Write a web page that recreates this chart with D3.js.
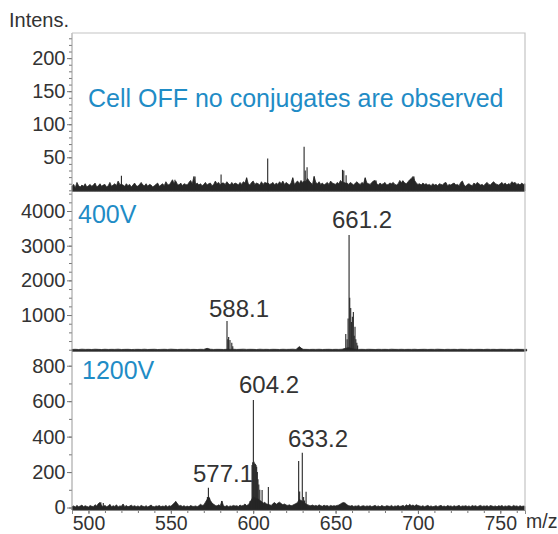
<!DOCTYPE html>
<html>
<head>
<meta charset="utf-8">
<script src="https://cdn.jsdelivr.net/npm/d3@7"></script>
<style>
  body { margin: 0; background: #fff; }
  text { font-family: "Liberation Sans", Arial, sans-serif; }
</style>
</head>
<body>
<div id="chart"></div>
<script>
// m/z of the first noise sample
const mzStart = 490;

// Cell OFF spectrum: baseline noise, one value per m/z unit (490..765)
const topNoise = [
  6, 9, 4, 12, 7, 5, 8, 6, 10, 5, 7, 9, 6, 8, 11, 5, 7, 10, 6, 8,
  9, 5, 7, 12, 6, 8, 10, 7, 14, 9, 9, 8, 6, 10, 7, 9, 5, 8, 11, 7,
  6, 9, 12, 8, 7, 10, 6, 9, 8, 5, 7, 9, 11, 6, 8, 10, 7, 13, 9, 8,
  12, 16, 10, 14, 9, 8, 11, 7, 10, 9, 8, 12, 15, 10, 21, 9, 11, 8, 10, 7,
  9, 12, 8, 10, 11, 7, 9, 14, 10, 12, 8, 11, 11, 9, 13, 10, 8, 12, 9, 11,
  10, 8, 12, 9, 13, 11, 19, 10, 8, 12, 14, 9, 11, 10, 8, 13, 9, 12, 11, 11,
  9, 10, 12, 8, 11, 9, 13, 10, 14, 9, 12, 10, 8, 11, 19, 9, 12, 14, 10, 15,
  12, 14, 13, 18, 14, 11, 9, 21, 12, 10, 13, 9, 11, 8, 10, 12, 9, 14, 11, 10,
  9, 12, 10, 15, 12, 12, 11, 11, 9, 12, 10, 8, 11, 13, 10, 9, 12, 10, 19, 11,
  10, 9, 12, 14, 15, 10, 8, 11, 9, 10, 12, 8, 9, 11, 10, 12, 9, 8, 10, 15,
  12, 14, 11, 10, 13, 16, 18, 21, 15, 11, 9, 10, 8, 11, 9, 10, 8, 9, 7, 10,
  8, 9, 7, 10, 9, 8, 11, 12, 7, 9, 8, 10, 11, 8, 9, 7, 12, 14, 8, 6,
  9, 10, 8, 7, 11, 9, 12, 10, 8, 9, 7, 10, 12, 9, 8, 11, 13, 10, 9, 8,
  10, 12, 9, 11, 8, 10, 9, 13, 11, 12, 9, 10, 8, 11, 9, 10
];
const topPeaks = [
  [520, 22], [552.5, 16], [564.7, 21], [580.5, 24], [596, 19], [608.8, 48],
  [624, 19], [630.9, 66], [631.6, 30], [632.7, 35], [637, 21], [654.2, 31],
  [655.0, 30], [656.4, 23], [668, 19], [674.6, 15], [690.8, 15], [695.6, 16], [697.6, 21]
];

// 400V spectrum: noise every 2 m/z units (490..766)
const midNoise = [
  8, 12, 6, 15, 9, 11, 7, 14, 10, 6, 13, 8, 11, 9, 15, 7, 10, 12, 6, 9,
  11, 8, 14, 7, 10, 13, 6, 9, 12, 8, 15, 10, 7, 11, 9, 13, 8, 10, 6, 12,
  9, 40, 14, 8, 11, 10, 7, 12, 9, 13, 8, 11, 15, 9, 12, 10, 6, 14, 9, 11,
  8, 12, 10, 7, 13, 9, 11, 15, 8, 90, 12, 10, 8, 11, 9, 13, 7, 10, 12, 8,
  11, 9, 14, 40, 60, 30, 12, 9, 11, 8, 13, 10, 7, 12, 9, 11, 8, 14, 10, 9,
  12, 8, 11, 9, 13, 7, 10, 12, 8, 11, 9, 14, 10, 7, 12, 9, 11, 8, 13, 10,
  9, 12, 8, 11, 10, 7, 13, 9, 11, 8, 12, 10, 9, 11, 8, 13, 10, 9, 12
];
const midPeaks = [
  [584.1, 828], [584.6, 300], [585.1, 370], [585.9, 280], [587.0, 200], [587.6, 100],
  [629.5, 50],
  [656.2, 453], [657.0, 300], [657.6, 900], [658.2, 3308], [658.6, 1500],
  [659.2, 1200], [659.6, 800], [660.2, 950], [660.8, 1090], [661.3, 400],
  [661.8, 663], [662.3, 300], [662.9, 200], [663.4, 120]
];

// 1200V spectrum: noise, one value per m/z unit (490..765)
const botNoise = [
  4, 9, 3, 12, 5, 8, 14, 4, 10, 6, 3, 11, 7, 5, 16, 8, 22, 28, 9, 6,
  12, 5, 8, 18, 4, 10, 6, 15, 3, 9, 7, 20, 5, 11, 4, 8, 13, 6, 10, 5,
  9, 4, 12, 7, 5, 10, 3, 8, 14, 6, 4, 9, 7, 11, 5, 8, 6, 12, 4, 10,
  7, 15, 25, 34, 22, 9, 12, 6, 10, 5, 8, 4, 11, 7, 6, 9, 5, 10, 18, 12,
  14, 30, 45, 60, 40, 25, 18, 12, 9, 15, 10, 37, 8, 6, 11, 5, 9, 7, 12, 8,
  10, 6, 14, 9, 12, 20, 11, 16, 28, 45, 60, 55, 50, 48, 40, 35, 24, 30, 20, 18,
  15, 12, 22, 28, 18, 25, 30, 22, 16, 20, 14, 12, 15, 10, 13, 18, 22, 30, 45, 40,
  35, 28, 20, 16, 12, 10, 14, 9, 12, 8, 15, 10, 7, 13, 9, 11, 6, 12, 8, 10,
  9, 12, 14, 20, 26, 28, 24, 15, 10, 8, 11, 6, 9, 7, 12, 5, 8, 10, 6, 9,
  7, 10, 5, 8, 12, 6, 9, 4, 11, 7, 5, 10, 8, 6, 12, 4, 9, 7, 11, 6,
  8, 12, 6, 15, 9, 18, 10, 14, 8, 16, 11, 9, 6, 10, 5, 8, 12, 6, 9, 4,
  7, 10, 5, 9, 12, 6, 8, 4, 11, 7, 9, 5, 10, 6, 8, 12, 5, 9, 7, 10,
  6, 9, 4, 11, 7, 10, 5, 8, 12, 6, 9, 7, 10, 5, 11, 8, 6, 9, 4, 10,
  7, 11, 5, 9, 6, 10, 8, 4, 12, 7, 9, 5, 10, 6, 8, 7
];
const botPeaks = [
  [507.5, 30], [509, 26], [553, 34], [572.2, 60], [572.8, 112], [573.5, 55], [574.3, 30],
  [580.9, 37], [598.1, 37], [599.3, 240], [599.7, 255], [600.1, 606], [600.5, 258],
  [600.9, 250], [601.3, 245], [601.7, 240], [602.1, 230], [602.5, 200],
  [602.9, 160], [603.4, 130], [604.0, 100], [605.4, 99], [609.2, 116],
  [627.6, 262], [628.2, 90], [629.8, 309], [630.6, 60], [631.2, 40], [632.1, 89]
];

const xTicks = [500, 550, 600, 650, 700, 750];
const topTicks = [50, 100, 150, 200];
const midTicks = [1000, 2000, 3000, 4000];
const botTicks = [0, 200, 400, 600, 800];

const width = 558, height = 534;
const plotLeft = 72, plotRight = 525, plotTop = 33, plotBottom = 510;
const blue = '#1f8cc6';

const svg = d3.select('#chart').append('svg')
  .attr('width', width)
  .attr('height', height);

const x = d3.scaleLinear().domain([490, 765]).range([plotLeft, plotRight]);

const panels = [
  {
    noise: topNoise, step: 1, peaks: topPeaks, domain: [-1, 238], range: [191, plotTop],
    ticks: topTicks, minor: d3.range(0, 240, 10),
    title: 'Cell OFF no conjugates are observed', titleX: 88, titleY: 107,
    labels: []
  },
  {
    noise: midNoise, step: 2, peaks: midPeaks, domain: [-37, 4577], range: [351, 191],
    ticks: midTicks, minor: d3.range(0, 4501, 250),
    title: '400V', titleX: 78, titleY: 223,
    labels: [['661.2', 362, 228], ['588.1', 239, 317]]
  },
  {
    noise: botNoise, step: 1, peaks: botPeaks, domain: [-14, 883], range: [plotBottom, 351],
    ticks: botTicks, minor: d3.range(0, 801, 100),
    title: '1200V', titleX: 82, titleY: 379,
    labels: [['604.2', 269, 393], ['633.2', 318, 447], ['577.1', 223, 482]]
  }
];

panels.forEach(p => {
  const y = d3.scaleLinear().domain(p.domain).range(p.range);
  const g = svg.append('g');

  // baseline noise as a filled trace
  const area = d3.area()
    .x((d, i) => x(mzStart + i * p.step))
    .y0(p.range[0])
    .y1(d => y(d));
  g.append('path')
    .datum(p.noise)
    .attr('d', area)
    .attr('fill', '#262626')
    .attr('stroke', '#262626')
    .attr('stroke-width', 0.8);

  // peaks as sticks
  g.selectAll('.peak')
    .data(p.peaks)
    .enter()
    .append('line')
    .attr('x1', d => x(d[0]))
    .attr('x2', d => x(d[0]))
    .attr('y1', p.range[0])
    .attr('y2', d => y(d[1]))
    .attr('stroke', '#262626')
    .attr('stroke-width', 1.1);

  // panel bottom line
  g.append('line')
    .attr('x1', plotLeft).attr('x2', plotRight)
    .attr('y1', p.range[0]).attr('y2', p.range[0])
    .attr('stroke', '#333')
    .attr('stroke-width', 1.2);

  // minor ticks
  const minorAxis = g.append('g')
    .attr('transform', `translate(${plotLeft},0)`)
    .call(d3.axisLeft(y).tickValues(p.minor).tickSize(3).tickFormat(''));
  minorAxis.select('.domain').remove();
  minorAxis.selectAll('line').attr('stroke', '#777');

  // major ticks with labels
  const axis = g.append('g')
    .attr('transform', `translate(${plotLeft},0)`)
    .call(d3.axisLeft(y).tickValues(p.ticks).tickSize(5).tickPadding(1.5).tickFormat(d3.format('d')));
  axis.select('.domain').remove();
  axis.selectAll('line').attr('stroke', '#777');
  axis.selectAll('text')
    .attr('fill', '#333')
    .style('font-size', '20px');

  // panel title
  g.append('text')
    .attr('x', p.titleX)
    .attr('y', p.titleY)
    .attr('fill', blue)
    .style('font-size', '25px')
    .text(p.title);

  // peak labels
  g.selectAll('.plabel')
    .data(p.labels)
    .enter()
    .append('text')
    .attr('x', d => d[1])
    .attr('y', d => d[2])
    .attr('text-anchor', 'middle')
    .attr('fill', '#333')
    .style('font-size', '24px')
    .text(d => d[0]);
});

// frame: left axis, top and right borders
svg.append('line')
  .attr('x1', plotLeft).attr('x2', plotLeft)
  .attr('y1', plotTop).attr('y2', plotBottom)
  .attr('stroke', '#999');
svg.append('path')
  .attr('d', `M${plotLeft},${plotTop}H${plotRight}V${plotBottom}`)
  .attr('fill', 'none')
  .attr('stroke', '#c4c4c4')
  .attr('stroke-width', 1.2);

// x axis
const xMinor = svg.append('g')
  .attr('transform', `translate(0,${plotBottom})`)
  .call(d3.axisBottom(x).tickValues(d3.range(490, 766, 10)).tickSize(3).tickFormat(''));
xMinor.select('.domain').remove();
xMinor.selectAll('line').attr('stroke', '#777');

const xAxis = svg.append('g')
  .attr('transform', `translate(0,${plotBottom})`)
  .call(d3.axisBottom(x).tickValues(xTicks).tickSize(4).tickPadding(2));
xAxis.select('.domain').attr('stroke', '#888');
xAxis.selectAll('line').attr('stroke', '#777');
xAxis.selectAll('text')
  .attr('fill', '#333')
  .style('font-size', '19.5px');

// axis titles
svg.append('text')
  .attr('x', 9)
  .attr('y', 27)
  .attr('fill', '#333')
  .style('font-size', '20px')
  .text('Intens.');

svg.append('text')
  .attr('x', 526)
  .attr('y', 528)
  .attr('fill', '#333')
  .style('font-size', '19.5px')
  .text('m/z');
</script>
</body>
</html>
